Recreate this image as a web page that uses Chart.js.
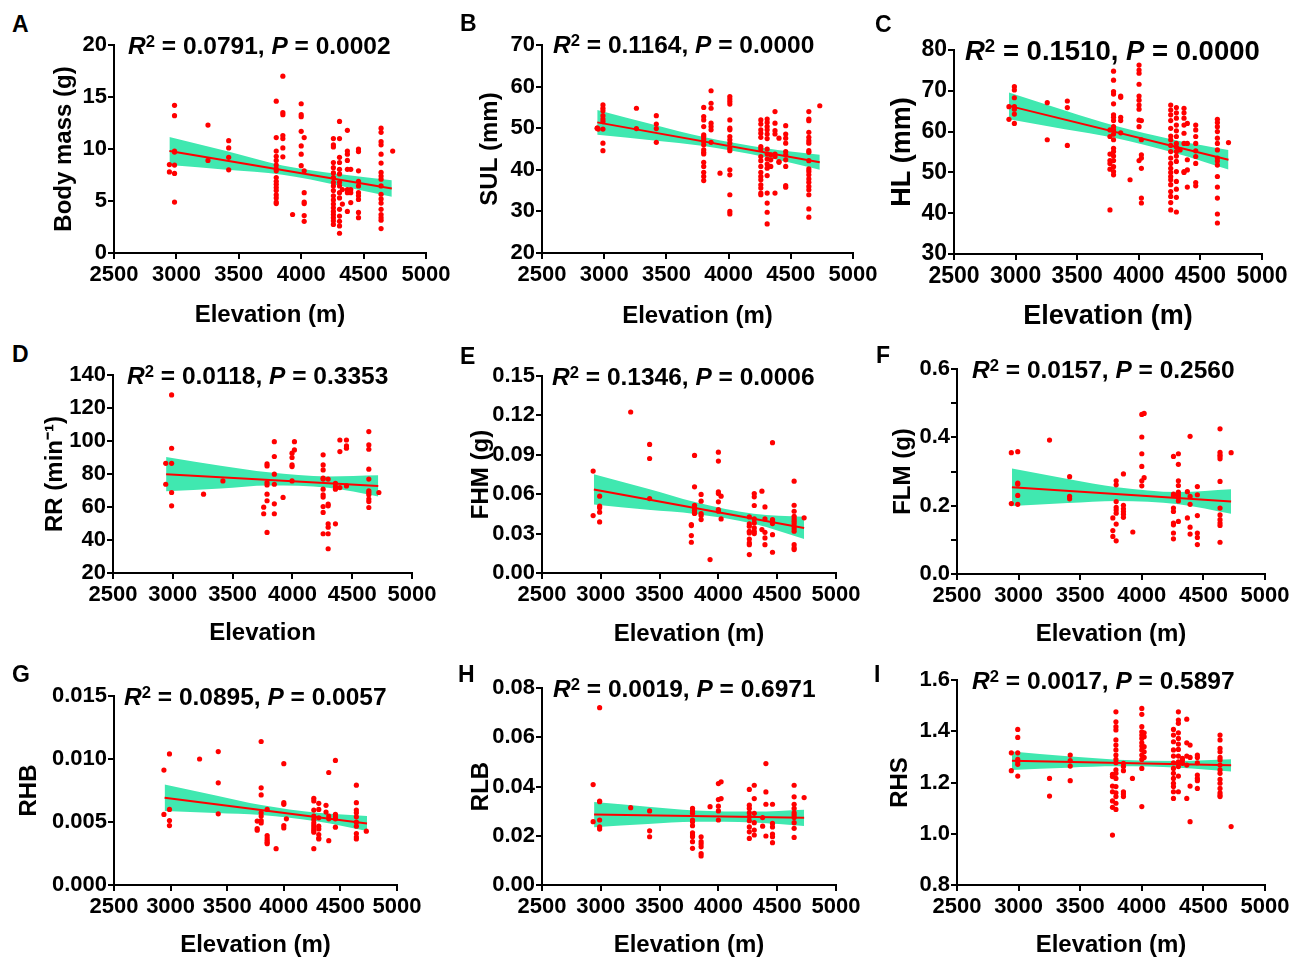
<!DOCTYPE html>
<html><head><meta charset="utf-8">
<script src="https://cdn.jsdelivr.net/npm/chart.js@4.4.0/dist/chart.umd.min.js"></script>
<style>
html,body{margin:0;padding:0;background:#fff;width:1304px;height:959px;overflow:hidden;position:relative;font-family:'Liberation Sans',Arial,sans-serif;}
canvas.panel{position:absolute;}
.letter{position:absolute;font:bold 23px 'Liberation Sans',Arial,sans-serif;line-height:23px;color:#000;}
</style></head><body>
<script>
// ---------------- DATA ----------------
const elevationTicks = [2500, 3000, 3500, 4000, 4500, 5000];

// A: Body mass (g)
const massSites = [2944, 2985, 3253, 3419, 3800, 3853, 3931, 4000, 4024, 4258, 4307, 4330, 4370, 4397, 4459, 4640, 4733];
const massValues = [
  [8.5, 7.8],
  [14.2, 13.2, 9.8, 9.7, 8.45, 7.65, 4.9],
  [12.3, 8.9],
  [10.8, 10.1, 9.2, 8.0],
  [14.6, 11.1, 9.8, 9.3, 8.9, 8.45, 8.1, 7.9, 7.25, 6.9, 6.6, 6.3, 6.0, 5.6, 5.3, 4.9, 4.75],
  [17.0, 13.5, 13.3, 11.3, 11.0, 10.1, 9.25],
  [3.7],
  [14.35, 13.3, 13.1, 11.7, 10.3, 9.5, 8.4],
  [11.1, 7.9, 5.8, 4.9, 4.75, 3.6, 3.05],
  [11.0, 10.4, 10.2, 8.7, 8.2, 7.7, 7.25, 6.8, 6.45, 6.0, 5.5, 5.1, 4.7, 4.35, 4.0, 3.7, 3.4, 3.1, 2.75],
  [12.65, 11.0, 9.2, 8.7, 8.05, 7.6, 6.8, 6.45, 5.8, 5.3, 4.2, 3.55, 3.05, 2.6, 1.9],
  [6.1, 4.7],
  [11.8, 9.8, 9.5, 8.9, 8.05, 6.1, 5.8, 4.0],
  [8.05, 6.1, 5.8, 4.85],
  [10.0, 9.75, 7.9, 6.9, 6.45, 5.8, 5.5, 5.15, 3.9, 3.4],
  [12.0, 11.6, 10.7, 10.4, 9.5, 8.65, 7.75, 7.4, 7.1, 6.45, 5.65, 5.2, 4.8, 4.2, 3.7, 3.4, 3.15, 2.35],
  [9.8]
];
const massTicks = [0, 5, 10, 15, 20];
const massFitX = [2944, 4726];
const massFitY = [9.8, 6.2];
const massBandX = [2944, 3400, 3850, 4300, 4726];
const massBandUp = [11.15, 9.8, 8.42, 7.6, 7.0];
const massBandLo = [8.45, 8.0, 7.52, 6.5, 5.4];

// B: SUL (mm)
const sulSites = [2944, 2952, 2990, 3259, 3419, 3800, 3859, 3931, 4010, 4259, 4310, 4339, 4373, 4405, 4459, 4645, 4733];
const sulValues = [
  [50, 50],
  [49.8],
  [55.6, 54.8, 54.2, 53, 52.2, 51.6, 49.8, 46.4, 44.6],
  [54.8, 49.9],
  [53, 51, 49.9, 46.6],
  [55, 52.8, 52, 50.4, 48.4, 48, 47.4, 46.8, 46, 44.8, 44.2, 43.8, 41.8, 40.8, 39.4, 38.4, 37.4],
  [59, 56, 54.8, 51.2, 50.4, 49.6, 46.6],
  [39.2],
  [57.6, 57, 56.4, 55.8, 52, 50, 49.6, 48, 47.2, 46.4, 45.2, 44.6, 40, 38.8, 34, 30, 29.4],
  [52, 51, 49.6, 48.8, 47.8, 45.6, 45, 43.2, 42.2, 40.8, 39.4, 38.4, 37.6, 36.4, 35.6, 34.4, 34],
  [52.2, 51.4, 50.4, 49.6, 48.6, 47.5, 45, 43.8, 42.6, 41.4, 40.4, 38.6, 34.4, 32, 29.8, 27],
  [43.6, 42.4, 40.8],
  [54, 51.2, 49.4, 48.6, 43.8, 43.2, 34.4],
  [47.6, 42, 41.8],
  [50.6, 48.6, 47.6, 46.4, 44.4, 43.6, 42.4, 40.8, 36.2, 35.8],
  [54, 52.2, 51.8, 49, 47.8, 47, 46.4, 44.6, 44.2, 42.2, 40.2, 39.6, 38.8, 37.8, 37, 36, 35.2, 34, 30.6, 28.6],
  [55.4]
];
const sulTicks = [20, 30, 40, 50, 60, 70];
const sulFitX = [2944, 4733];
const sulFitY = [51.4, 41.8];
const sulBandX = [2944, 3400, 3800, 4300, 4733];
const sulBandUp = [54.4, 50.85, 47.9, 45.2, 43.6];
const sulBandLo = [48.4, 47.05, 45.7, 43.0, 40.0];

// C: HL (mm)
const hlSites = [2946, 2990, 3257, 3420, 3766, 3795, 3853, 3929, 4002, 4021, 4259, 4305, 4335, 4367, 4394, 4462, 4638, 4728];
const hlValues = [
  [66.1, 63],
  [71, 70.2, 68.3, 66.1, 65.5, 64.3, 62],
  [67.1, 58],
  [67.5, 65.9, 56.6],
  [60.4, 58.8, 54.5, 52.9, 52.2, 50.8, 40.8],
  [74.8, 72.6, 69.8, 69.2, 66.8, 64.1, 63.5, 62.7, 61.2, 60.4, 59.4, 58, 55.9, 55.1, 54, 52.9, 51.4, 50.2, 49.4],
  [68.7, 68.4, 63.5, 62.7, 59.7],
  [48.2],
  [76.3, 75.1, 74.3, 71.6, 68.7, 67.7, 66.5, 65.5, 62.8, 61.2, 52.9],
  [62.7, 58, 54.3, 53.5, 51, 43.7, 42.5],
  [66.5, 65.3, 64.1, 62.7, 60.8, 58.9, 58, 56.6, 55.1, 53.5, 52.2, 51, 50, 49, 48.2, 47, 45.3, 44.1, 42.6, 40.8],
  [65.9, 64.6, 63.3, 61.6, 60.2, 58.8, 57.1, 56.2, 55.1, 54, 52.7, 50.2, 47.8, 45.9, 43.9, 40.3],
  [55.5],
  [65.7, 64.6, 63.3, 61.6, 59.6, 57.1, 50.2, 50],
  [62, 57.1, 53.1, 50.6, 46.4],
  [61.6, 60.4, 58.8, 57.1, 55.3, 53.9, 52.2, 47.5, 46.7],
  [63, 62.2, 61.2, 60, 58.4, 57.1, 55.5, 53.5, 52.8, 51.8, 49, 46.4, 43.7, 39.8, 37.6],
  [57.3]
];
const hlTicks = [30, 40, 50, 60, 70, 80];
const hlFitX = [2946, 4728];
const hlFitY = [66.3, 53.1];
const hlBandX = [2946, 3400, 3800, 4300, 4728];
const hlBandUp = [69.6, 65.2, 61.5, 57.9, 55.5];
const hlBandLo = [63.0, 60.6, 58.5, 54.7, 50.7];

// D: RR (min-1)
const rrSites = [2941, 2990, 3257, 3419, 3760, 3788, 3849, 3922, 3997, 4017, 4257, 4299, 4360, 4397, 4452, 4639, 4723];
const rrValues = [
  [86.5, 73.8],
  [127.9, 95.6, 86.5, 68.8, 60.7],
  [67.8],
  [75.8],
  [59.9, 55.9],
  [86.1, 84.9, 74.8, 73.4, 67.8, 63.8, 44.6],
  [99.6, 90.6, 79.9, 73.8, 61.9, 55.9],
  [65.8],
  [92.6, 90, 85.5, 84.5, 75.8],
  [99.6, 94.6],
  [91.6, 85.5, 82.5, 77.5, 76.9, 70.8, 67.4, 66, 60.3, 56.7, 43.8],
  [76.9, 61.7, 60.7, 49.8, 47.8, 43.8, 34.7],
  [74.4, 72.4, 70.8, 49.8],
  [100.6, 93.6, 71.8],
  [100.6, 97, 95.6, 72.8],
  [105.7, 97.6, 95, 82.9, 76.9, 69.8, 68.8, 67.4, 64.8, 63.3, 59.7],
  [68.8]
];
const rrTicks = [20, 40, 60, 80, 100, 120, 140];
const rrFitX = [2944, 4718];
const rrFitY = [79.9, 72.8];
const rrBandX = [2944, 3400, 3800, 4300, 4718];
const rrBandUp = [90.3, 85.0, 81.0, 78.5, 79.2];
const rrBandLo = [69.5, 71.2, 73.0, 71.6, 66.4];

// E: FHM (g)
const fhmSites = [2935, 2990, 3254, 3415, 3770, 3797, 3853, 3929, 4000, 4023, 4263, 4305, 4370, 4396, 4460, 4644, 4729];
const fhmValues = [
  [0.0776, 0.0437],
  [0.0585, 0.0509, 0.0496, 0.0463, 0.0389],
  [0.1226],
  [0.0979, 0.0872, 0.0567],
  [0.0369, 0.0361, 0.0285, 0.0234],
  [0.0895, 0.0656, 0.0516, 0.0496, 0.0478, 0.0463, 0.0453],
  [0.0598, 0.0547, 0.0453, 0.0437, 0.0407],
  [0.0102],
  [0.092, 0.0852, 0.0618, 0.0605, 0.0542, 0.0483, 0.047],
  [0.0585, 0.0412],
  [0.0427, 0.0374, 0.0356, 0.0318, 0.0305, 0.0259, 0.0229, 0.0216, 0.014],
  [0.0605, 0.058, 0.0514, 0.0412, 0.0381, 0.0343, 0.0318, 0.03],
  [0.0623, 0.0331],
  [0.0503, 0.0412, 0.031, 0.0267, 0.0216],
  [0.0992, 0.0407, 0.0394, 0.0376, 0.0292, 0.0158],
  [0.0699, 0.0516, 0.047, 0.0432, 0.0412, 0.0394, 0.0376, 0.0356, 0.0336, 0.0318, 0.0216, 0.0191, 0.0178],
  [0.042]
];
const fhmTicks = [0.00, 0.03, 0.06, 0.09, 0.12, 0.15];
const fhmFitX = [2941, 4729];
const fhmFitY = [0.0636, 0.0343];
const fhmBandX = [2941, 3400, 3800, 4300, 4729];
const fhmBandUp = [0.0751, 0.0641, 0.054, 0.0451, 0.0428];
const fhmBandLo = [0.0521, 0.0481, 0.045, 0.0375, 0.0258];

// F: FLM (g)
const flmSites = [2941, 2993, 3251, 3414, 3765, 3792, 3851, 3927, 4000, 4019, 4257, 4297, 4370, 4392, 4451, 4635, 4725];
const flmValues = [
  [0.355, 0.206],
  [0.358, 0.266, 0.263, 0.23, 0.204],
  [0.392],
  [0.285, 0.227, 0.22],
  [0.164, 0.127, 0.11],
  [0.273, 0.261, 0.212, 0.195, 0.187, 0.178, 0.146, 0.097],
  [0.293, 0.201, 0.191, 0.183, 0.175, 0.166],
  [0.123],
  [0.467, 0.401, 0.352, 0.315, 0.273, 0.258],
  [0.47, 0.282],
  [0.344, 0.234, 0.23, 0.193, 0.183, 0.149, 0.144, 0.12, 0.103],
  [0.352, 0.321, 0.273, 0.259, 0.24, 0.232, 0.224, 0.214, 0.154],
  [0.241, 0.164],
  [0.403, 0.227, 0.204, 0.137, 0.117],
  [0.256, 0.232, 0.171, 0.12, 0.107, 0.086],
  [0.425, 0.356, 0.349, 0.344, 0.337, 0.271, 0.193, 0.173, 0.159, 0.149, 0.142, 0.093],
  [0.355]
];
const flmTicks = [0.0, 0.2, 0.4, 0.6];
const flmMinorStep = 0.1;
const flmFitX = [2946, 4725];
const flmFitY = [0.254, 0.212];
const flmBandX = [2946, 3400, 3800, 4300, 4725];
const flmBandUp = [0.309, 0.278, 0.254, 0.240, 0.248];
const flmBandLo = [0.199, 0.208, 0.214, 0.204, 0.176];

// G: RHB
const rhbSites = [2941, 2990, 3256, 3421, 3765, 3800, 3853, 3932, 4000, 4023, 4265, 4309, 4373, 4397, 4456, 4641, 4729];
const rhbValues = [
  [0.00912, 0.0056],
  [0.0104, 0.006, 0.00512, 0.00472],
  [0.01],
  [0.01059, 0.00811, 0.00565],
  [0.00507, 0.00448, 0.00435],
  [0.01139, 0.00771, 0.00715, 0.00573, 0.00547, 0.00512, 0.00493],
  [0.006, 0.00392, 0.00373, 0.00355, 0.00339, 0.00328],
  [0.00288],
  [0.00963, 0.00653, 0.0064, 0.00472, 0.00453],
  [0.00525],
  [0.00688, 0.00667, 0.00595, 0.00547, 0.0052, 0.00493, 0.00472, 0.00453, 0.00435, 0.00419, 0.00288],
  [0.00648, 0.006, 0.00533, 0.00467, 0.00445, 0.004, 0.00373, 0.00365],
  [0.00632, 0.00579],
  [0.00893, 0.00547, 0.00525, 0.00352],
  [0.00989, 0.0056, 0.00541, 0.00525, 0.00459],
  [0.00792, 0.00653, 0.00595, 0.00573, 0.00541, 0.00499, 0.00467, 0.00408, 0.00381, 0.00365],
  [0.00427]
];
const rhbTicks = [0.000, 0.005, 0.010, 0.015];
const rhbFitX = [2947, 4735];
const rhbFitY = [0.00693, 0.00488];
const rhbBandX = [2947, 3400, 3800, 4300, 4735];
const rhbBandUp = [0.00798, 0.00711, 0.00635, 0.00573, 0.00548];
const rhbBandLo = [0.00588, 0.00571, 0.00555, 0.00503, 0.00428];

// H: RLB
const rlbSites = [2935, 2990, 3254, 3415, 3780, 3853, 3929, 4000, 4023, 4263, 4305, 4376, 4404, 4460, 4644, 4729];
const rlbValues = [
  [0.0408, 0.0257],
  [0.072, 0.0341, 0.0338, 0.0264, 0.0236, 0.0227],
  [0.0314],
  [0.0301, 0.022, 0.0196],
  [0.0311, 0.0301, 0.0291, 0.0264, 0.0257, 0.0241, 0.0212, 0.0203, 0.0196, 0.0176, 0.0149],
  [0.0196, 0.0176, 0.0166, 0.0155, 0.0128, 0.0118],
  [0.0318],
  [0.0412, 0.0347, 0.032, 0.0301, 0.0264],
  [0.0419, 0.0351],
  [0.0388, 0.0324, 0.0311, 0.0293, 0.0277, 0.0261, 0.0236, 0.0216, 0.0189],
  [0.0405, 0.0351, 0.0291, 0.0253, 0.0223, 0.0203],
  [0.0274, 0.0239],
  [0.0493, 0.0378, 0.0328, 0.0199],
  [0.0328, 0.025, 0.0236, 0.0207, 0.0196, 0.0172],
  [0.0405, 0.0358, 0.0328, 0.0311, 0.0293, 0.0284, 0.0274, 0.0253, 0.023, 0.0193],
  [0.0355]
];
const rlbTicks = [0.00, 0.02, 0.04, 0.06, 0.08];
const rlbFitX = [2943, 4729];
const rlbFitY = [0.0286, 0.0273];
const rlbBandX = [2943, 3400, 3800, 4300, 4729];
const rlbBandUp = [0.0337, 0.0318, 0.0303, 0.0298, 0.0306];
const rlbBandLo = [0.0235, 0.0248, 0.0257, 0.0254, 0.024];

// I: RHS
const rhsSites = [2941, 2993, 3251, 3419, 3762, 3790, 3851, 3924, 4000, 4019, 4257, 4297, 4330, 4365, 4392, 4451, 4635, 4725];
const rhsValues = [
  [1.316, 1.246],
  [1.407, 1.376, 1.316, 1.29, 1.281, 1.271, 1.225],
  [1.216, 1.147],
  [1.307, 1.285, 1.264, 1.207],
  [1.232, 1.223, 1.186, 1.164, 1.128, 1.103, 0.995],
  [1.476, 1.437, 1.418, 1.405, 1.366, 1.346, 1.327, 1.307, 1.29, 1.277, 1.249, 1.236, 1.216, 1.184, 1.16, 1.145, 1.119, 1.095],
  [1.275, 1.262, 1.246, 1.164, 1.155, 1.145],
  [1.216],
  [1.489, 1.466, 1.418, 1.398, 1.385, 1.372, 1.355, 1.342, 1.327, 1.307, 1.29, 1.255, 1.106],
  [1.394, 1.379, 1.34, 1.32, 1.298],
  [1.407, 1.385, 1.359, 1.327, 1.303, 1.277, 1.255, 1.236, 1.216, 1.197, 1.184, 1.164, 1.138],
  [1.476, 1.444, 1.431, 1.394, 1.372, 1.35, 1.329, 1.303, 1.281, 1.262, 1.225, 1.164],
  [1.294, 1.288, 1.275],
  [1.447, 1.355, 1.303, 1.268, 1.138],
  [1.346, 1.298, 1.186, 1.047],
  [1.307, 1.298, 1.277, 1.229, 1.216, 1.207, 1.177],
  [1.385, 1.366, 1.333, 1.32, 1.298, 1.288, 1.268, 1.249, 1.236, 1.212, 1.197, 1.177, 1.16, 1.151, 1.145],
  [1.028]
];
const rhsTicks = [0.8, 1.0, 1.2, 1.4, 1.6];
const rhsFitX = [2946, 4725];
const rhsFitY = [1.285, 1.267];
const rhsBandX = [2946, 3400, 3800, 4300, 4725];
const rhsBandUp = [1.321, 1.302, 1.289, 1.284, 1.291];
const rhsBandLo = [1.249, 1.258, 1.263, 1.258, 1.243];

const panelLetters = ['A', 'B', 'C', 'D', 'E', 'F', 'G', 'H', 'I'];
const statR2 = ['0.0791', '0.1164', '0.1510', '0.0118', '0.1346', '0.0157', '0.0895', '0.0019', '0.0017'];
const statP  = ['0.0002', '0.0000', '0.0000', '0.3353', '0.0006', '0.2560', '0.0057', '0.6971', '0.5897'];
const yTitles = ['Body mass (g)', 'SUL (mm)', 'HL (mm)', 'RR (min\u207B\u00B9)', 'FHM (g)', 'FLM (g)', 'RHB', 'RLB', 'RHS'];
const xTitles = ['Elevation (m)', 'Elevation (m)', 'Elevation (m)', 'Elevation', 'Elevation (m)', 'Elevation (m)', 'Elevation (m)', 'Elevation (m)', 'Elevation (m)'];

// ---------------- LAYOUT (positions / sizes) ----------------
const LAYOUT = [
  {area:[114,426,45,253],  yTitleX:64,  xTitleY:316, titleFs:24, tickFs:22, stat:[128,54,24.5],  letter:[12,32]},
  {area:[542,853,45,253],  yTitleX:490, xTitleY:317, titleFs:24, tickFs:22, stat:[553,53,24.5],  letter:[460,31]},
  {area:[954,1262,50,254], yTitleX:902, xTitleY:317, titleFs:27, tickFs:23, stat:[965,60,27.5],  letter:[875,32]},
  {area:[113,412,375,573], yTitleX:55,  xTitleY:634, titleFs:24, tickFs:22, stat:[127,384,24.5], letter:[12,362]},
  {area:[542,836,376,573], yTitleX:481, xTitleY:635, titleFs:24, tickFs:22, stat:[552,385,24.5], letter:[460,364]},
  {area:[957,1265,369,574],yTitleX:903, xTitleY:635, titleFs:24, tickFs:22, stat:[972,378,24.5], letter:[876,363]},
  {area:[114,397,696,885], yTitleX:29,  xTitleY:946, titleFs:24, tickFs:22, stat:[124,705,24.5], letter:[12,682]},
  {area:[542,836,688,885], yTitleX:481, xTitleY:946, titleFs:24, tickFs:22, stat:[553,697,24.5], letter:[458,682]},
  {area:[957,1265,680,885],yTitleX:900, xTitleY:946, titleFs:24, tickFs:22, stat:[972,689,24.5], letter:[874,682]}
];

const SERIES = [
  {sites:massSites, vals:massValues, ticks:massTicks, fitX:massFitX, fitY:massFitY, bx:massBandX, up:massBandUp, lo:massBandLo, dec:0},
  {sites:sulSites, vals:sulValues, ticks:sulTicks, fitX:sulFitX, fitY:sulFitY, bx:sulBandX, up:sulBandUp, lo:sulBandLo, dec:0},
  {sites:hlSites, vals:hlValues, ticks:hlTicks, fitX:hlFitX, fitY:hlFitY, bx:hlBandX, up:hlBandUp, lo:hlBandLo, dec:0},
  {sites:rrSites, vals:rrValues, ticks:rrTicks, fitX:rrFitX, fitY:rrFitY, bx:rrBandX, up:rrBandUp, lo:rrBandLo, dec:0},
  {sites:fhmSites, vals:fhmValues, ticks:fhmTicks, fitX:fhmFitX, fitY:fhmFitY, bx:fhmBandX, up:fhmBandUp, lo:fhmBandLo, dec:2},
  {sites:flmSites, vals:flmValues, ticks:flmTicks, minor:flmMinorStep, fitX:flmFitX, fitY:flmFitY, bx:flmBandX, up:flmBandUp, lo:flmBandLo, dec:1},
  {sites:rhbSites, vals:rhbValues, ticks:rhbTicks, fitX:rhbFitX, fitY:rhbFitY, bx:rhbBandX, up:rhbBandUp, lo:rhbBandLo, dec:3},
  {sites:rlbSites, vals:rlbValues, ticks:rlbTicks, fitX:rlbFitX, fitY:rlbFitY, bx:rlbBandX, up:rlbBandUp, lo:rlbBandLo, dec:2},
  {sites:rhsSites, vals:rhsValues, ticks:rhsTicks, fitX:rhsFitX, fitY:rhsFitY, bx:rhsBandX, up:rhsBandUp, lo:rhsBandLo, dec:1}
];

// ---------------- RENDER ----------------
const FAM = "'Liberation Sans', Arial, Helvetica, sans-serif";
const RED = '#ff0000';
const BAND = 'rgb(64,232,176)';

function points(sites, vals) {
  const out = [];
  sites.forEach((s, i) => vals[i].forEach(v => out.push({x: s, y: v})));
  return out;
}
function pairs(xs, ys) { return xs.map((x, i) => ({x: x, y: ys[i]})); }

const statPlugin = {
  id: 'statText',
  afterDraw(chart, args, o) {
    const ctx = chart.ctx;
    const fs = o.size;
    let x = o.x;
    const y = o.y;
    ctx.save();
    ctx.fillStyle = '#000';
    ctx.textAlign = 'left';
    ctx.textBaseline = 'alphabetic';
    const parts = [
      ['R', 'italic bold', fs, 0],
      ['2', 'bold', fs * 0.68, -fs * 0.3],
      [' = ' + o.r2 + ', ', 'bold', fs, 0],
      ['P', 'italic bold', fs, 0],
      [' = ' + o.p, 'bold', fs, 0]
    ];
    for (const [t, st, s, dy] of parts) {
      ctx.font = st + ' ' + s + 'px ' + FAM;
      ctx.fillText(t, x, y + dy);
      x += ctx.measureText(t).width;
    }
    ctx.restore();
  }
};

SERIES.forEach((S, i) => {
  const L = LAYOUT[i];
  const [aL, aR, aT, aB] = L.area;
  const off = 0.6 * L.titleFs;
  const cLeft = Math.round(L.yTitleX - off);
  const cTop = aT - 40;
  const cRight = Math.min(aR + 40, 1304);
  const cBottom = Math.round(L.xTitleY + off);
  const yW = aL - cLeft;
  const xH = cBottom - aB;

  const cv = document.createElement('canvas');
  cv.className = 'panel';
  cv.width = cRight - cLeft;
  cv.height = cBottom - cTop;
  cv.style.left = cLeft + 'px';
  cv.style.top = cTop + 'px';
  cv.style.width = cv.width + 'px';
  cv.style.height = cv.height + 'px';
  document.body.appendChild(cv);

  const lt = document.createElement('div');
  lt.className = 'letter';
  lt.textContent = panelLetters[i];
  lt.style.left = L.letter[0] + 'px';
  lt.style.top = (L.letter[1] - 19.5) + 'px';
  document.body.appendChild(lt);

  const tickFont = {family: FAM, size: L.tickFs, weight: 'bold'};
  const titleFont = {family: FAM, size: L.titleFs, weight: 'bold', lineHeight: 1.2};
  const yt = S.ticks;
  const majorStep = yt[1] - yt[0];
  const step = S.minor || majorStep;

  new Chart(cv, {
    type: 'scatter',
    data: {
      datasets: [
        {data: pairs(S.bx, S.up), showLine: true, fill: '+1', backgroundColor: BAND,
         borderColor: 'rgba(0,0,0,0)', borderWidth: 1, pointRadius: 0, cubicInterpolationMode: 'monotone', order: 4},
        {data: pairs(S.bx, S.lo), showLine: true, fill: false,
         borderColor: 'rgba(0,0,0,0)', borderWidth: 1, pointRadius: 0, cubicInterpolationMode: 'monotone', order: 3},
        {data: points(S.sites, S.vals), pointRadius: 2.6, pointBackgroundColor: RED, pointBorderWidth: 0,
         borderColor: RED, backgroundColor: RED, order: 2},
        {data: pairs(S.fitX, S.fitY), showLine: true, borderColor: RED, borderWidth: 2, pointRadius: 0, fill: false, order: 1}
      ]
    },
    options: {
      responsive: false,
      devicePixelRatio: 1,
      animation: false,
      events: [],
      layout: {padding: {left: 0, top: aT - cTop, right: cRight - aR, bottom: 0}},
      plugins: {
        legend: {display: false},
        tooltip: {enabled: false},
        statText: {x: L.stat[0] - cLeft, y: L.stat[1] - cTop, size: L.stat[2], r2: statR2[i], p: statP[i]}
      },
      scales: {
        x: {
          type: 'linear',
          min: elevationTicks[0], max: elevationTicks[elevationTicks.length - 1],
          afterFit(s) { s.height = xH; },
          ticks: {stepSize: elevationTicks[1] - elevationTicks[0], autoSkip: false, maxRotation: 0, minRotation: 0,
                  font: tickFont, color: '#000', padding: 3, callback: v => String(v)},
          grid: {drawOnChartArea: false, drawTicks: true, tickLength: 6, color: '#000', lineWidth: 2},
          border: {display: true, color: '#000', width: 2},
          title: {display: true, text: xTitles[i], font: titleFont, color: '#000', padding: 0}
        },
        y: {
          type: 'linear',
          min: yt[0], max: yt[yt.length - 1],
          afterFit(s) { s.width = yW; },
          ticks: {stepSize: step, autoSkip: false, font: tickFont, color: '#000', padding: 1,
                  callback: v => yt.some(t => Math.abs(t - v) < step * 1e-3) ? Number(v).toFixed(S.dec) : ''},
          grid: {drawOnChartArea: false, drawTicks: true, tickLength: 6, color: '#000', lineWidth: 2},
          border: {display: true, color: '#000', width: 2},
          title: {display: true, text: yTitles[i], font: titleFont, color: '#000', padding: 0}
        }
      }
    },
    plugins: [statPlugin]
  });
});
</script>
</body></html>
